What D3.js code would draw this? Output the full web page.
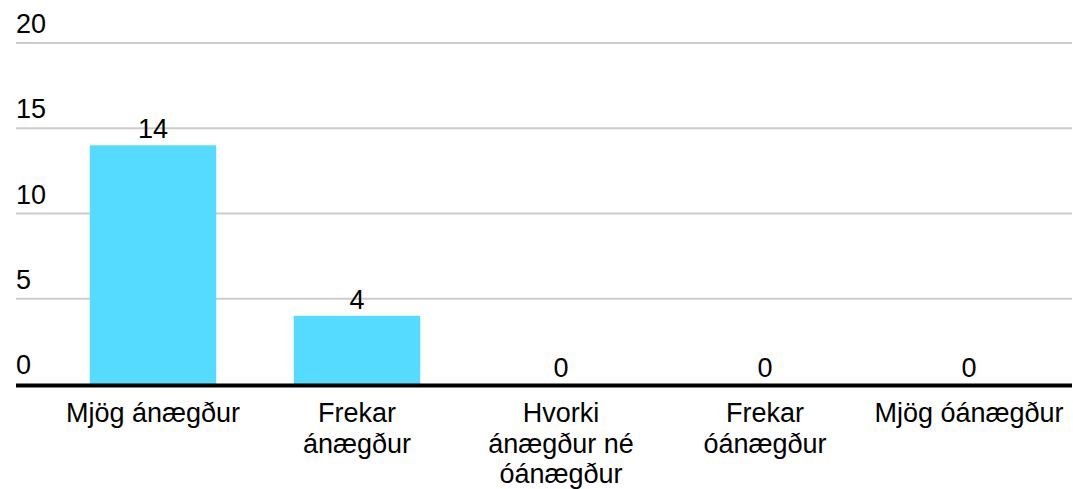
<!DOCTYPE html>
<html><head><meta charset="utf-8">
<script src="https://cdn.jsdelivr.net/npm/d3@7/dist/d3.min.js"></script>
<style>body{margin:0;background:#fff}svg{display:block}text{font-family:"Liberation Sans",Arial,sans-serif;fill:#000}</style>
</head><body>
<script>
const categories = [["Mjög ánægður"], ["Frekar", "ánægður"], ["Hvorki", "ánægður né", "óánægður"], ["Frekar", "óánægður"], ["Mjög óánægður"]];
const values = [14, 4, 0, 0, 0];
const yTicks = [0, 5, 10, 15, 20];

const W = 1073, H = 489;
const svg = d3.select("body").append("svg").attr("width", W).attr("height", H);
const ids = categories.map((c, i) => i);
const x = d3.scaleBand().domain(ids).range([51, 1071]).paddingInner(0.38).paddingOuter(0.19);
const y = d3.scaleLinear().domain([0, 20]).range([384, 43]);
const fs = 27;

// gridlines
svg.append("g").selectAll("line").data(yTicks.filter(d => d > 0)).join("line")
  .attr("x1", 16).attr("x2", 1072).attr("y1", d => y(d)).attr("y2", d => y(d))
  .attr("stroke", "#cccccc").attr("stroke-width", 2);
// y tick labels
svg.append("g").selectAll("text").data(yTicks).join("text")
  .attr("x", 16).attr("y", d => y(d) - 10).attr("font-size", fs).text(d => d);
// bars
svg.append("g").selectAll("rect").data(values).join("rect")
  .attr("x", (d, i) => x(i)).attr("width", x.bandwidth())
  .attr("y", d => y(d)).attr("height", d => y(0) - y(d)).attr("fill", "#55dbff");
// baseline
svg.append("line").attr("x1", 16).attr("x2", 1072).attr("y1", y(0) + 1.5).attr("y2", y(0) + 1.5)
  .attr("stroke", "#000").attr("stroke-width", 4);
// value labels
svg.append("g").selectAll("text").data(values).join("text")
  .attr("x", (d, i) => x(i) + x.bandwidth() / 2).attr("y", d => y(d) - 7)
  .attr("text-anchor", "middle").attr("font-size", fs).text(d => d);
// category labels
const cg = svg.append("g").selectAll("text").data(categories).join("text")
  .attr("x", (d, i) => x(i) + x.bandwidth() / 2).attr("y", 422)
  .attr("text-anchor", "middle").attr("font-size", fs);
cg.selectAll("tspan").data(d => d).join("tspan")
  .attr("x", function() { return this.parentNode.getAttribute("x"); })
  .attr("dy", (d, j) => j === 0 ? 0 : 30.5).text(d => d);
</script>
</body></html>
